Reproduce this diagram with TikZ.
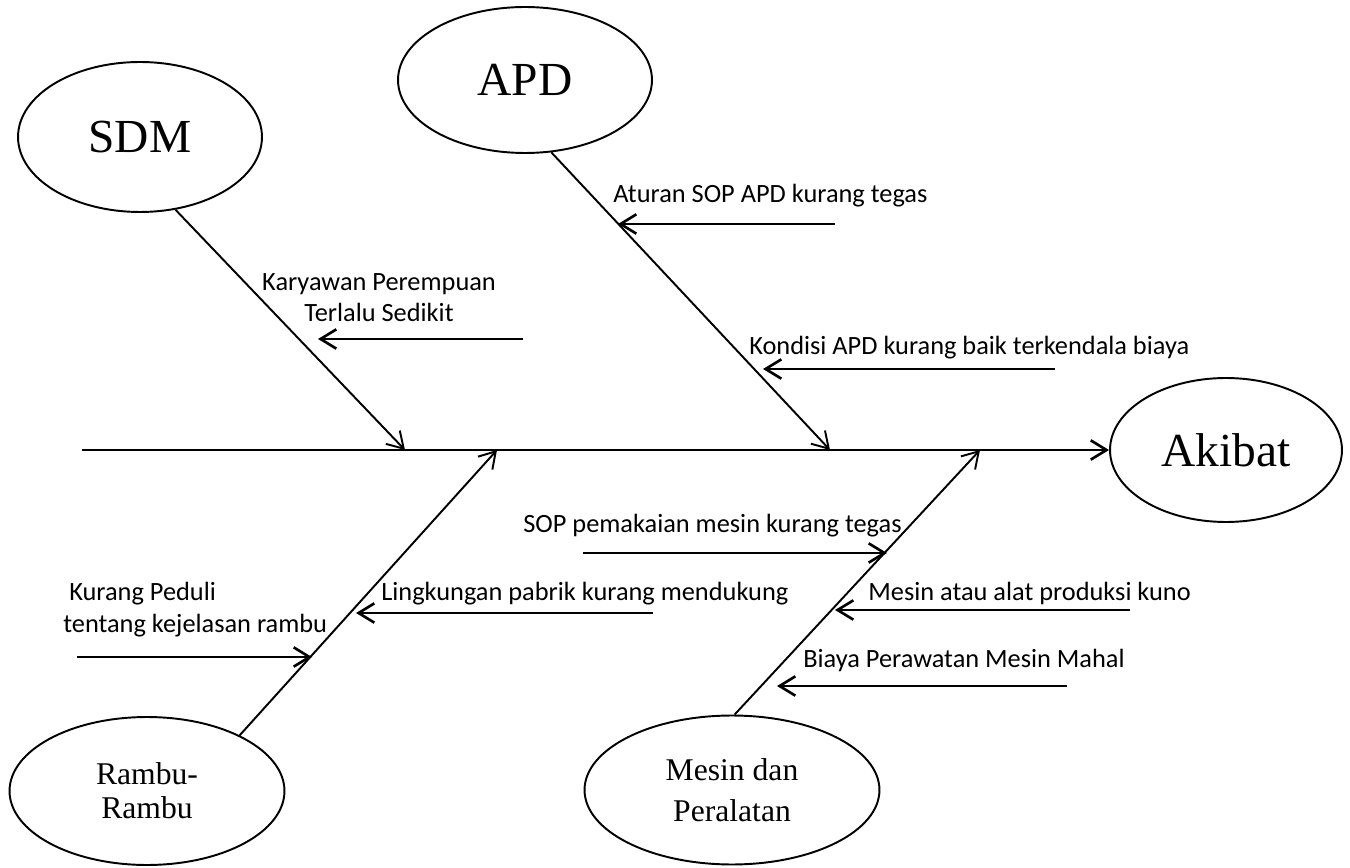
\documentclass[tikz,border=0pt]{standalone}
\usepackage{fontspec}
\setmainfont{Liberation Serif}
\newfontfamily\calibri{Carlito}
\usetikzlibrary{shapes.geometric,arrows.meta}

\begin{document}
\begin{tikzpicture}[x=0.02cm, y=-0.02cm, >={Straight Barb[length=9pt,width=11pt]},
    kategori/.style={draw, ellipse, line width=1.1pt, inner sep=0pt},
    besar/.style={font=\fontsize{27}{32}\selectfont},
    kecil/.style={font=\fontsize{18}{22}\selectfont, align=center},
    sebab/.style={font=\calibri\fontsize{15}{18}\selectfont, inner sep=0pt},
    tulang/.style={->, line width=1.1pt},
    panah/.style={->, line width=1.5pt}]
    \useasboundingbox (0,0) rectangle (1350,868);
    % kategori
    \node[kategori, besar, minimum width=4.88cm, minimum height=3cm] (sdm) at (140,137) {SDM};
    \node[kategori, besar, minimum width=5.08cm, minimum height=2.92cm] (apd) at (525,80) {APD};
    \node[kategori, besar, minimum width=4.64cm, minimum height=2.88cm] (akibat) at (1226,450) {Akibat};
    \node[kategori, kecil, font=\fontsize{18}{19.5}\selectfont, minimum width=5.5cm, minimum height=2.96cm] (rambu) at (147,791) {Rambu-\\Rambu};
    \node[kategori, kecil, font=\fontsize{18}{23}\selectfont, minimum width=5.9cm, minimum height=2.98cm] (mesin) at (732,790) {Mesin dan\\Peralatan};
    % tulang utama
    \coordinate (ekor) at (82,450);
    \draw[panah] (ekor) -- (akibat);
    \coordinate (sdmujung) at (405,450);
    \coordinate (apdujung) at (830,450);
    \coordinate (rambuujung) at (497,450);
    \coordinate (mesinujung) at (980,450);
    \draw[tulang] (sdm.-64) -- (sdmujung);
    \draw[tulang] (apd.-70) -- (apdujung);
    \draw[tulang] (rambu.31) -- (rambuujung);
    \draw[tulang] (mesin.88) -- (mesinujung);
    % sebab
    \node[sebab, anchor=base west] (aturan) at (613,203) {Aturan SOP APD kurang tegas};
    \coordinate (aturan1) at (835,224); \coordinate (aturan2) at (618,224);
    \draw[panah] (aturan1) -- (aturan2);
    \node[sebab, anchor=base west] (kondisi) at (749,355) {Kondisi APD kurang baik terkendala biaya};
    \coordinate (kondisi1) at (1055,369); \coordinate (kondisi2) at (763,369);
    \draw[panah] (kondisi1) -- (kondisi2);
    \node[sebab, anchor=base, align=center] (karyawan) at (379,322) {Karyawan Perempuan\\Terlalu Sedikit};
    \coordinate (karyawan1) at (523,339); \coordinate (karyawan2) at (318,339);
    \draw[panah] (karyawan1) -- (karyawan2);
    \node[sebab, anchor=base west] (sop) at (523,532) {SOP pemakaian mesin kurang tegas};
    \coordinate (sop1) at (583,553); \coordinate (sop2) at (887,553);
    \draw[panah] (sop1) -- (sop2);
    \node[sebab, anchor=base west] (lingkungan) at (381,600) {Lingkungan pabrik kurang mendukung};
    \coordinate (lingkungan1) at (653,613); \coordinate (lingkungan2) at (356,613);
    \draw[panah] (lingkungan1) -- (lingkungan2);
    \node[sebab, anchor=base west] (kuno) at (868,600) {Mesin atau alat produksi kuno};
    \coordinate (kuno1) at (1130,610); \coordinate (kuno2) at (835,610);
    \draw[panah] (kuno1) -- (kuno2);
    \node[sebab, anchor=base west] (biaya) at (803,667) {Biaya Perawatan Mesin Mahal};
    \coordinate (biaya1) at (1067,686); \coordinate (biaya2) at (777,686);
    \draw[panah] (biaya1) -- (biaya2);
    \node[sebab, anchor=base west, align=left] (peduli) at (63,632) {\ Kurang Peduli\\tentang kejelasan rambu};
    \coordinate (peduli1) at (77,657); \coordinate (peduli2) at (312,657);
    \draw[panah] (peduli1) -- (peduli2);
\end{tikzpicture}
\end{document}
